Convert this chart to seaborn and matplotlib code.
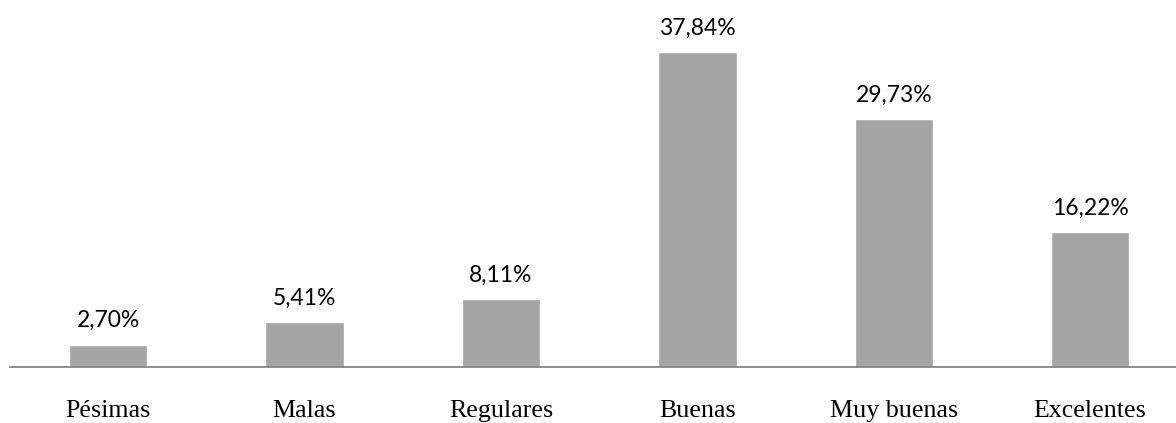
import matplotlib
matplotlib.use("Agg")
import matplotlib.pyplot as plt
import seaborn as sns
import pandas as pd

categories = ["Pésimas", "Malas", "Regulares", "Buenas", "Muy buenas", "Excelentes"]
values = [2.70, 5.41, 8.11, 37.84, 29.73, 16.22]

df = pd.DataFrame({"categoria": categories, "porcentaje": values})

sns.set_theme(style="white")

W, H, DPI = 1176, 423, 100
fig = plt.figure(figsize=(W / DPI, H / DPI), dpi=DPI)
step = 196.4
ax = fig.add_axes([10 / W, 56 / H, 6 * step / W, (H - 56) / H])

sns.barplot(data=df, x="categoria", y="porcentaje", color="#A5A5A5",
            saturation=1, width=0.40, ax=ax)

ax.set_ylim(0, 44.05)
ax.set_xlim(-0.5, 5.5)
ax.set_xlabel("")
ax.set_ylabel("")
ax.set_yticks([])
for side in ["top", "right", "left"]:
    ax.spines[side].set_visible(False)
ax.spines["bottom"].set_color("#868686")
ax.spines["bottom"].set_linewidth(1.3)
ax.tick_params(axis="x", length=0, pad=24)
for lbl in ax.get_xticklabels():
    lbl.set_fontfamily("Liberation Serif")
    lbl.set_fontsize(18.7)
    lbl.set_color("#000000")

for i, v in enumerate(values):
    ax.annotate(f"{v:.2f}%".replace(".", ","), xy=(i, v), xytext=(0, 12.5),
                textcoords="offset points", ha="center", va="baseline",
                fontsize=16.5, family="Lato", color="#000000")

fig.savefig("out.png", dpi=DPI)
